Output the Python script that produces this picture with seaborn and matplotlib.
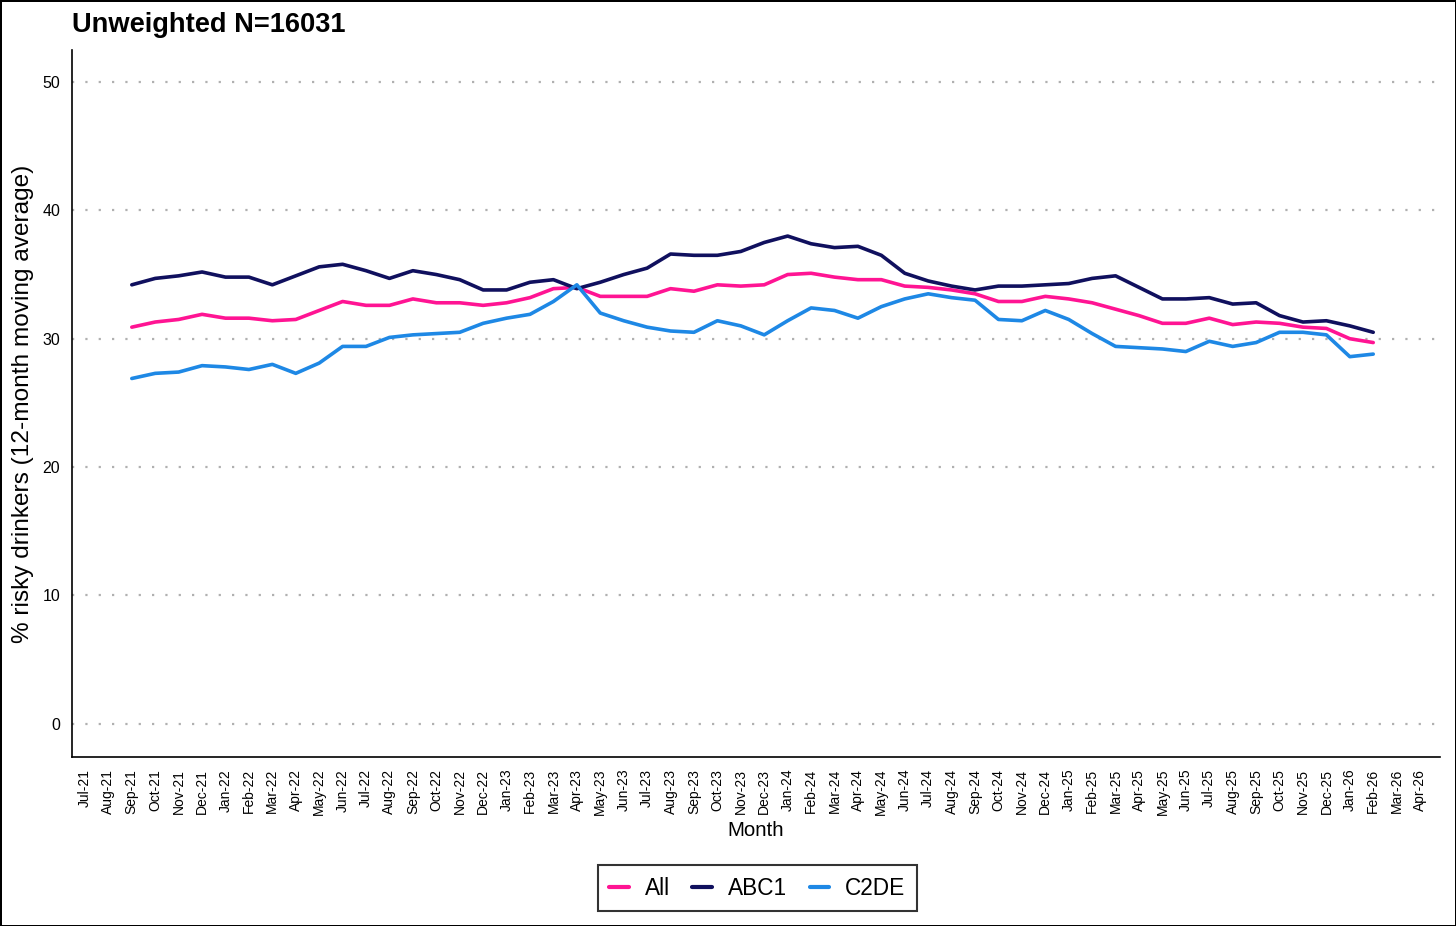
import numpy as np
import pandas as pd
import matplotlib
matplotlib.use("Agg")
import matplotlib.pyplot as plt
import seaborn as sns

# Month tick labels (Jul-21 .. Apr-26)
tick_months = pd.date_range("2021-07-01", "2026-04-01", freq="MS")
tick_labels = [d.strftime("%b-%y") for d in tick_months]

# Data months: Sep-21 .. Feb-26
data_months = pd.date_range("2021-09-01", "2026-02-01", freq="MS")

all_vals = [30.9, 31.3, 31.5, 31.9, 31.6, 31.6, 31.4, 31.5, 32.2, 32.9,
            32.6, 32.6, 33.1, 32.8, 32.8, 32.6, 32.8, 33.2, 33.9, 34.0,
            33.3, 33.3, 33.3, 33.9, 33.7, 34.2, 34.1, 34.2, 35.0, 35.1,
            34.8, 34.6, 34.6, 34.1, 34.0, 33.8, 33.5, 32.9, 32.9, 33.3,
            33.1, 32.8, 32.3, 31.8, 31.2, 31.2, 31.6, 31.1, 31.3, 31.2,
            30.9, 30.8, 30.0, 29.7]

abc1_vals = [34.2, 34.7, 34.9, 35.2, 34.8, 34.8, 34.2, 34.9, 35.6, 35.8,
             35.3, 34.7, 35.3, 35.0, 34.6, 33.8, 33.8, 34.4, 34.6, 33.9,
             34.4, 35.0, 35.5, 36.6, 36.5, 36.5, 36.8, 37.5, 38.0, 37.4,
             37.1, 37.2, 36.5, 35.1, 34.5, 34.1, 33.8, 34.1, 34.1, 34.2,
             34.3, 34.7, 34.9, 34.0, 33.1, 33.1, 33.2, 32.7, 32.8, 31.8,
             31.3, 31.4, 31.0, 30.5]

c2de_vals = [26.9, 27.3, 27.4, 27.9, 27.8, 27.6, 28.0, 27.3, 28.1, 29.4,
             29.4, 30.1, 30.3, 30.4, 30.5, 31.2, 31.6, 31.9, 32.9, 34.2,
             32.0, 31.4, 30.9, 30.6, 30.5, 31.4, 31.0, 30.3, 31.4, 32.4,
             32.2, 31.6, 32.5, 33.1, 33.5, 33.2, 33.0, 31.5, 31.4, 32.2,
             31.5, 30.4, 29.4, 29.3, 29.2, 29.0, 29.8, 29.4, 29.7, 30.5,
             30.5, 30.3, 28.6, 28.8]

groups = ["All", "ABC1", "C2DE"]
colours = {"All": "#FF1493", "ABC1": "#10105E", "C2DE": "#1E88E5"}

# month index relative to Jul-21
idx = [(d.year - 2021) * 12 + d.month - 7 for d in data_months]

df = pd.concat([
    pd.DataFrame({"month": idx, "value": all_vals, "group": "All"}),
    pd.DataFrame({"month": idx, "value": abc1_vals, "group": "ABC1"}),
    pd.DataFrame({"month": idx, "value": c2de_vals, "group": "C2DE"}),
])

sns.set_theme(style="white")
plt.rcParams["font.family"] = ["Liberation Sans", "DejaVu Sans"]
plt.rcParams["text.color"] = "black"
plt.rcParams["axes.labelcolor"] = "black"

fig = plt.figure(figsize=(14.56, 9.26), dpi=100, edgecolor="black", linewidth=2)
ax = fig.add_axes([0.0495, 0.1825, 0.9395, 0.7635])

# dotted horizontal grid at major y ticks
for y in [0, 10, 20, 30, 40, 50]:
    ax.axhline(y, color="#B0B0B0", lw=1.6, ls=(0, (1, 5)), zorder=0)

sns.lineplot(data=df, x="month", y="value", hue="group", hue_order=groups,
             palette=colours, lw=2.6, ax=ax, legend=True)

ax.set_xlim(-0.55, len(tick_labels) - 1 + 0.85)
ax.set_ylim(-2.6, 52.5)
ax.set_xticks(range(len(tick_labels)))
ax.set_xticklabels(tick_labels, rotation=90, fontsize=10)
ax.set_yticks([0, 10, 20, 30, 40, 50])
ax.tick_params(axis="y", labelsize=11.5, length=5, width=1.2, colors="black")
ax.tick_params(axis="x", length=5, width=1.2, colors="black")

for s in ["top", "right"]:
    ax.spines[s].set_visible(False)
for s in ["left", "bottom"]:
    ax.spines[s].set_color("black")
    ax.spines[s].set_linewidth(1.2)

ax.set_xlabel("Month", fontsize=14.8, labelpad=4)
ax.set_ylabel("% risky drinkers (12-month moving average)", fontsize=17.6, labelpad=6)
ax.set_title("Unweighted N=16031", loc="left", fontsize=19.6, fontweight="bold", pad=13)

handles, labels = ax.get_legend_handles_labels()
ax.get_legend().remove()
leg = fig.legend(handles, labels, loc="center", bbox_to_anchor=(0.52, 0.041), ncol=3,
                 frameon=True, edgecolor="black", fancybox=False, fontsize=16.3,
                 handlelength=0.87, handletextpad=0.7, columnspacing=1.0,
                 borderpad=0.5, borderaxespad=0)
leg.get_frame().set_linewidth(1.5)
for line in leg.get_lines():
    line.set_linewidth(3)

fig.savefig("out.png", dpi=100)
